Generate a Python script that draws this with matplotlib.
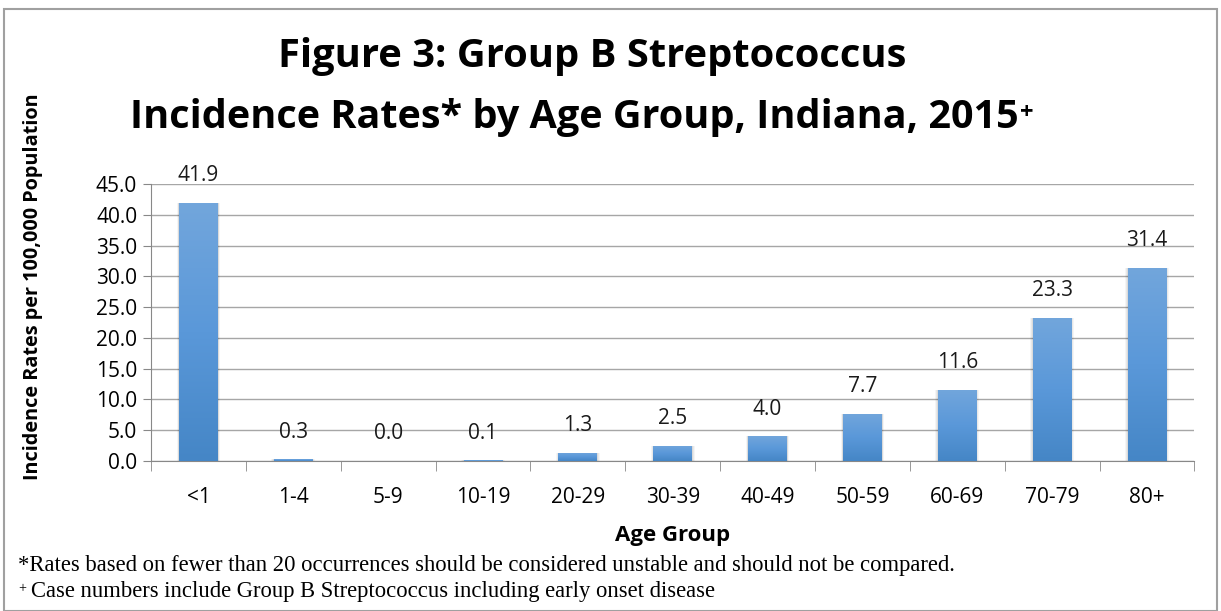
import numpy as np
import matplotlib
matplotlib.use('Agg')
import matplotlib.pyplot as plt
from matplotlib.colors import LinearSegmentedColormap

plt.rcParams['font.family'] = ['Open Sans', 'DejaVu Sans']

# data
age_groups = ['<1', '1-4', '5-9', '10-19', '20-29', '30-39', '40-49', '50-59', '60-69', '70-79', '80+']
rates = [41.9, 0.3, 0.0, 0.1, 1.3, 2.5, 4.0, 7.7, 11.6, 23.3, 31.4]
y_ticks = [0, 5, 10, 15, 20, 25, 30, 35, 40, 45]

fig = plt.figure(figsize=(12.21, 6.11), dpi=100)
ax = fig.add_axes([0.1237, 0.2455, 0.8545, 0.4534])

x = np.arange(len(age_groups))
w = 0.41
bars = ax.bar(x, rates, width=w, color='#5a95d3', zorder=3)

# vertical gradient inside each bar, with a soft shadow around it
grad = LinearSegmentedColormap.from_list('g', ['#4586c6', '#5a98d9', '#72a6dc'])
img = np.linspace(0, 1, 256).reshape(-1, 1)
for b in bars:
    h = b.get_height()
    if h <= 0:
        continue
    bx = b.get_x()
    for extra, a in [(0.05, 0.04), (0.03, 0.05), (0.015, 0.06)]:
        ax.bar(bx + w / 2, h + extra * 6, width=w + extra, bottom=-extra * 6,
               color='#000000', alpha=a, zorder=2, linewidth=0)
    im = ax.imshow(img, cmap=grad, aspect='auto', origin='lower',
                   extent=(bx, bx + w, 0, h), zorder=3)
    im.set_clip_path(b)

for xi, v in zip(x, rates):
    ax.annotate(f'{v:.1f}', xy=(xi, v), xytext=(0, 19.5), textcoords='offset points',
                ha='center', va='center', fontsize=15, color='#1a1a1a')

ax.set_xlim(-0.5, len(age_groups) - 0.5)
ax.set_ylim(0, 45)
ax.set_yticks(y_ticks)
ax.set_yticklabels([f'{t:.1f}' for t in y_ticks], fontsize=15)
ax.set_xticks(x)
ax.set_xticklabels(age_groups, fontsize=15)
ax.set_xticks(np.arange(-0.5, len(age_groups)), minor=True)
ax.tick_params(axis='x', which='major', length=0, pad=19)
ax.tick_params(axis='x', which='minor', length=7, color='#888888')
ax.tick_params(axis='y', length=6, color='#888888', pad=4)
ax.grid(axis='y', color='#a6a6a6', linewidth=1, zorder=0)
for s in ['top', 'right']:
    ax.spines[s].set_visible(False)
for s in ['left', 'bottom']:
    ax.spines[s].set_color('#888888')

ax.set_xlabel('Age Group', fontsize=16, fontweight='bold', labelpad=12)
fig.text(0.027, 0.53, 'Incidence Rates per 100,000 Population', rotation=90,
         ha='center', va='center', fontsize=14.3, fontweight='bold')

# title, two lines, superscript plus after the year
fig.text(0.485, 0.908, 'Figure 3: Group B Streptococcus', ha='center', va='center',
         fontsize=28.7, fontweight='bold')
t2 = fig.text(0.470, 0.808, 'Incidence Rates* by Age Group, Indiana, 2015', ha='center', va='center',
              fontsize=28.5, fontweight='bold')
ax.annotate('+', xy=(1, 0.93), xycoords=t2, xytext=(1, 0), textcoords='offset points',
            ha='left', va='top', fontsize=17, fontweight='bold')

# footnotes
fig.text(0.015, 0.075, '*Rates based on fewer than 20 occurrences should be considered unstable and should not be compared.',
         fontsize=16.3, family='Liberation Serif', va='center')
fig.text(0.015, 0.037, '+', fontsize=10, family='Liberation Serif', va='center')
fig.text(0.025, 0.032, 'Case numbers include Group B Streptococcus including early onset disease',
         fontsize=16.3, family='Liberation Serif', va='center')

# outer frame
fig.patches.append(plt.Rectangle((0.003, 0.0), 0.994, 0.985, transform=fig.transFigure,
                                 fill=False, edgecolor='#a0a0a0', linewidth=1.5))

fig.savefig('out.png', dpi=100)
